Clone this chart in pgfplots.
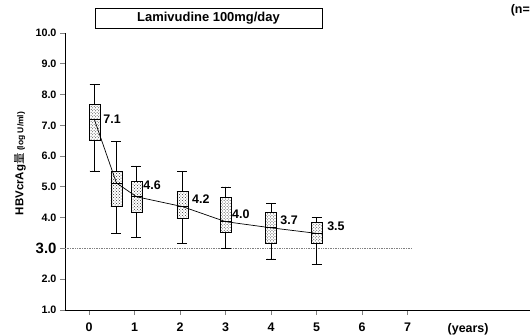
\documentclass[border=0pt]{standalone}
\usepackage{fontspec}
\setmainfont{Liberation Sans}
\newfontfamily\cjk{Noto Sans CJK JP}
\usepackage{pgfplots}
\pgfplotsset{compat=1.18}
\usepgfplotslibrary{statistics}
\usetikzlibrary{patterns}
\begin{document}
\begin{tikzpicture}[x=1bp,y=1bp]
\useasboundingbox (0,0) rectangle (530,335);
\begin{axis}[
  at={(65bp,25bp)}, anchor=south west,
  scale only axis, width=465bp, height=277bp,
  xmin=-0.53, xmax=9.69, ymin=1, ymax=10,
  axis x line=bottom, axis y line=left,
  axis line style={-, line width=0.8bp},
  xtick={0,...,7}, xticklabels={0,1,2,3,4,5,6,7},
  ytick={1,...,10},
  yticklabels={1.0,2.0,{\fontsize{15}{15}\selectfont 3.0},4.0,5.0,6.0,7.0,8.0,9.0,10.0},
  tick align=outside,
  x tick style={line width=0.6bp},
  y tick style={line width=0.8bp},
  major tick length=5bp,
  yticklabel style={font=\fontsize{10.8}{12}\selectfont\bfseries},
  xticklabel style={font=\fontsize{12.5}{14}\selectfont\bfseries, yshift=-4bp},
  clip=false,
  boxplot/draw direction=y,
  every axis plot/.append style={line width=0.7bp},
]
% reference line at 3.0
\addplot[densely dotted, gray, line width=0.6bp] coordinates {(-0.53,3) (7.1,3)};
% boxes
\addplot[black, pattern=crosshatch dots, pattern color=black!80, boxplot prepared={draw position=0.12, lower whisker=5.52, lower quartile=6.5, median=7.2, upper quartile=7.67, upper whisker=8.34, box extend=0.24, whisker extend=0.22}] coordinates {};
\addplot[black, pattern=crosshatch dots, pattern color=black!80, boxplot prepared={draw position=0.6, lower whisker=3.5, lower quartile=4.36, median=5.13, upper quartile=5.49, upper whisker=6.49, box extend=0.24, whisker extend=0.22}] coordinates {};
\addplot[black, pattern=crosshatch dots, pattern color=black!80, boxplot prepared={draw position=1.04, lower whisker=3.35, lower quartile=4.17, median=4.68, upper quartile=5.17, upper whisker=5.68, box extend=0.24, whisker extend=0.22}] coordinates {};
\addplot[black, pattern=crosshatch dots, pattern color=black!80, boxplot prepared={draw position=2.05, lower whisker=3.17, lower quartile=3.98, median=4.36, upper quartile=4.84, upper whisker=5.51, box extend=0.24, whisker extend=0.22}] coordinates {};
\addplot[black, pattern=crosshatch dots, pattern color=black!80, boxplot prepared={draw position=3.0, lower whisker=3.0, lower quartile=3.51, median=3.87, upper quartile=4.65, upper whisker=5.0, box extend=0.24, whisker extend=0.22}] coordinates {};
\addplot[black, pattern=crosshatch dots, pattern color=black!80, boxplot prepared={draw position=4.0, lower whisker=2.66, lower quartile=3.16, median=3.67, upper quartile=4.16, upper whisker=4.48, box extend=0.24, whisker extend=0.22}] coordinates {};
\addplot[black, pattern=crosshatch dots, pattern color=black!80, boxplot prepared={draw position=5.0, lower whisker=2.48, lower quartile=3.16, median=3.49, upper quartile=3.84, upper whisker=4.0, box extend=0.24, whisker extend=0.22}] coordinates {};
% connecting line
\addplot[black, line width=0.7bp, mark=none] coordinates {(0.12,7.17) (0.6,5.13) (1.04,4.68) (2.05,4.36) (3.0,3.87) (4.0,3.67) (5.0,3.49)};
% value labels
\begin{scope}[every node/.style={font=\fontsize{12.5}{14}\selectfont\bfseries, anchor=west, inner sep=0pt}]
\node at (axis cs:0.31,7.2) {7.1};
\node at (axis cs:1.19,5.06) {4.6};
\node at (axis cs:2.26,4.6) {4.2};
\node at (axis cs:3.14,4.12) {4.0};
\node at (axis cs:4.2,3.92) {3.7};
\node at (axis cs:5.23,3.73) {3.5};
\end{scope}
\node[font=\fontsize{12.5}{14}\selectfont\bfseries, anchor=base] at ([yshift=-22bp]axis cs:8.33,1) {(years)};
\end{axis}
% y label
\node[rotate=90, font=\fontsize{11.5}{13}\selectfont\bfseries, inner sep=0pt] at (20,171.5) {HBVcrAg\hspace{0.5bp}{\cjk\mdseries 量}\hspace{2bp}{\fontsize{8.5}{10}\selectfont (log U/ml)}};
% title box
\node[draw, line width=0.6bp, minimum width=227bp, minimum height=20bp, inner sep=0pt, font=\fontsize{13}{15}\selectfont\bfseries] at (208.5,317) {Lamivudine 100mg/day};
\node[font=\fontsize{12.5}{14}\selectfont\bfseries, anchor=east, inner sep=0pt] at (530,325) {(n=};
\end{tikzpicture}
\end{document}
